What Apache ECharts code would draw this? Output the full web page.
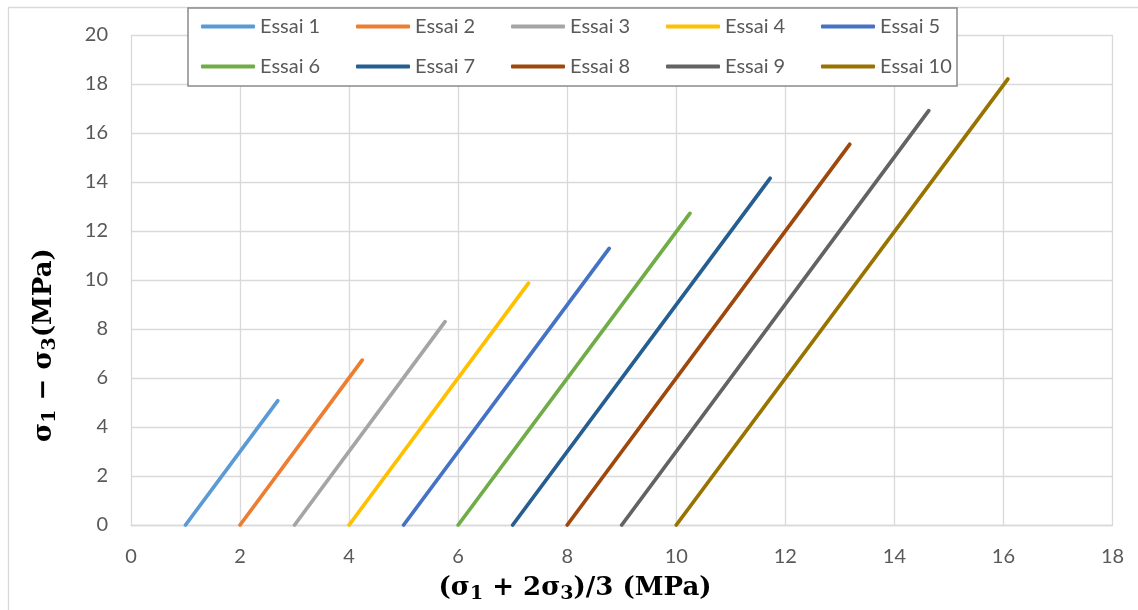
<!DOCTYPE html>
<html>
<head>
<meta charset="utf-8">
<script src="https://cdn.jsdelivr.net/npm/echarts@6/dist/echarts.min.js"></script>
<style>
html,body{margin:0;padding:0;background:#fff;}
#c{width:1138px;height:610px;}
</style>
</head>
<body>
<div id="c"></div>
<script>
// ---- data ----
const seriesNames = ['Essai 1','Essai 2','Essai 3','Essai 4','Essai 5','Essai 6','Essai 7','Essai 8','Essai 9','Essai 10'];
const startX = [1, 2, 3, 4, 5, 6, 7, 8, 9, 10];
const startY = [0, 0, 0, 0, 0, 0, 0, 0, 0, 0];
const endX   = [2.69, 4.24, 5.76, 7.29, 8.77, 10.25, 11.72, 13.18, 14.63, 16.08];
const endY   = [5.07, 6.73, 8.30, 9.87, 11.29, 12.72, 14.15, 15.54, 16.91, 18.20];
const colors = ['#5B9BD5','#ED7D31','#A5A5A5','#FFC000','#4472C4','#70AD47','#255E91','#9E480E','#636363','#997300'];

const chart = echarts.init(document.getElementById('c'), null, {renderer:'canvas'});

const series = seriesNames.map((n, i) => ({
  name: n,
  type: 'line',
  data: [[startX[i], startY[i]], [endX[i], endY[i]]],
  symbol: 'none',
  color: colors[i],
  lineStyle: {width: 3.75, color: colors[i], cap: 'round'},
  z: 2
}));

const tickFont = {fontFamily: 'Lato', fontSize: 20, color: '#595959'};
const serif = 'DejaVu Serif';
const richTitle = {
  a: {fontFamily: serif, fontWeight: 'bold', fontSize: 26, fill: '#000', lineHeight: 34},
  s: {fontFamily: serif, fontWeight: 'bold', fontSize: 19, fill: '#000', lineHeight: 34, padding: [12, 0, 0, 0]}
};

chart.setOption({
  animation: false,
  backgroundColor: '#fff',
  grid: {left: 131, right: 25.5, top: 35, bottom: 85, containLabel: false},
  xAxis: {
    type: 'value', min: 0, max: 18, interval: 2,
    axisLine: {show: true, lineStyle: {color: '#d9d9d9', width: 1.3}},
    axisTick: {show: false},
    splitLine: {show: true, lineStyle: {color: '#d9d9d9', width: 1.3}},
    axisLabel: Object.assign({margin: 22}, tickFont)
  },
  yAxis: {
    type: 'value', min: 0, max: 20, interval: 2,
    axisLine: {show: false},
    axisTick: {show: false},
    splitLine: {show: true, lineStyle: {color: '#d9d9d9', width: 1.3}},
    axisLabel: Object.assign({margin: 23}, tickFont)
  },
  legend: {
    data: seriesNames,
    left: 201, top: 9.5, width: 780,
    padding: 0,
    itemGap: 6,
    itemWidth: 54, itemHeight: 4,
    icon: 'roundRect',
    z: 6,
    textStyle: {fontFamily: 'Lato', fontSize: 20, color: '#595959', width: 90, lineHeight: 34}
  },
  graphic: [
    {type: 'line', shape: {x1: 8.5, y1: 7.5, x2: 8.5, y2: 620}, style: {stroke: '#d9d9d9', lineWidth: 1.3}, silent: true},
    {type: 'line', shape: {x1: 8, y1: 7.5, x2: 1140, y2: 7.5}, style: {stroke: '#d9d9d9', lineWidth: 1.3}, silent: true},
    {type: 'rect', z: 5, shape: {x: 188, y: 8, width: 769, height: 78},
      style: {fill: '#fff', stroke: '#8a8a8a', lineWidth: 1.5}, silent: true},
    {type: 'text', z: 5, x: 575, y: 588,
      style: {
        text: '{a|(σ}{s|1}{a| + 2σ}{s|3}{a|)/3 (MPa)}',
        align: 'center', verticalAlign: 'middle',
        rich: richTitle
      }},
    {type: 'text', z: 5, x: 44, y: 345, rotation: Math.PI / 2,
      style: {
        text: '{a|σ}{s|1}{a| − σ}{s|3}{a|(MPa)}',
        align: 'center', verticalAlign: 'middle',
        rich: richTitle
      }}
  ],
  series: series
});
</script>
</body>
</html>
